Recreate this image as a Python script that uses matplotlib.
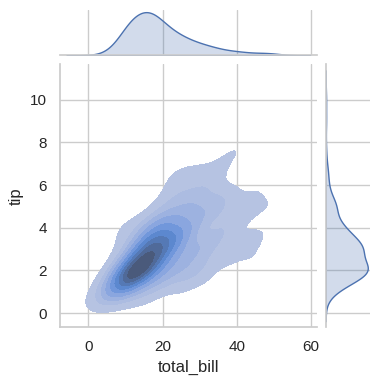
import matplotlib
matplotlib.use("Agg")
import matplotlib.pyplot as plt
import pandas as pd
import seaborn as sns

# tips dataset (total_bill, tip)
total_bill = [
    16.99, 10.34, 21.01, 23.68, 24.59, 25.29, 8.77, 26.88, 15.04, 14.78,
    10.27, 35.26, 15.42, 18.43, 14.83, 21.58, 10.33, 16.29, 16.97, 20.65,
    17.92, 20.29, 15.77, 39.42, 19.82, 17.81, 13.37, 12.69, 21.70, 19.65,
    9.55, 18.35, 15.06, 20.69, 17.78, 24.06, 16.31, 16.93, 18.69, 31.27,
    16.04, 17.46, 13.94, 9.68, 30.40, 18.29, 22.23, 32.40, 28.55, 18.04,
    12.54, 10.29, 34.81, 9.94, 25.56, 19.49, 38.01, 26.41, 11.24, 48.27,
    20.29, 13.81, 11.02, 18.29, 17.59, 20.08, 16.45, 3.07, 20.23, 15.01,
    12.02, 17.07, 26.86, 25.28, 14.73, 10.51, 17.92, 27.20, 22.76, 17.29,
    19.44, 16.66, 10.07, 32.68, 15.98, 34.83, 13.03, 18.28, 24.71, 21.16,
    28.97, 22.49, 5.75, 16.32, 22.75, 40.17, 27.28, 12.03, 21.01, 12.46,
    11.35, 15.38, 44.30, 22.42, 20.92, 15.36, 20.49, 25.21, 18.24, 14.31,
    14.00, 7.25, 38.07, 23.95, 25.71, 17.31, 29.93, 10.65, 12.43, 24.08,
    11.69, 13.42, 14.26, 15.95, 12.48, 29.80, 8.52, 14.52, 11.38, 22.82,
    19.08, 20.27, 11.17, 12.26, 18.26, 8.51, 10.33, 14.15, 16.00, 13.16,
    17.47, 34.30, 41.19, 27.05, 16.43, 8.35, 18.64, 11.87, 9.78, 7.51,
    14.07, 13.13, 17.26, 24.55, 19.77, 29.85, 48.17, 25.00, 13.39, 16.49,
    21.50, 12.66, 16.21, 13.81, 17.51, 24.52, 20.76, 31.71, 10.59, 10.63,
    50.81, 15.81, 7.25, 31.85, 16.82, 32.90, 17.89, 14.48, 9.60, 34.63,
    34.65, 23.33, 45.35, 23.17, 40.55, 20.69, 20.90, 30.46, 18.15, 23.10,
    15.69, 19.81, 28.44, 15.48, 16.58, 7.56, 10.34, 43.11, 13.00, 13.51,
    18.71, 12.74, 13.00, 16.40, 20.53, 16.47, 26.59, 38.73, 24.27, 12.76,
    30.06, 25.89, 48.33, 13.27, 28.17, 12.90, 28.15, 11.59, 7.74, 30.14,
    12.16, 13.42, 8.58, 15.98, 13.42, 16.27, 10.09, 20.45, 13.28, 22.12,
    24.01, 15.69, 11.61, 10.77, 15.53, 10.07, 12.60, 32.83, 35.83, 29.03,
    27.18, 22.67, 17.82, 18.78,
]
tip = [
    1.01, 1.66, 3.50, 3.31, 3.61, 4.71, 2.00, 3.12, 1.96, 3.23,
    1.71, 5.00, 1.57, 3.00, 3.02, 3.92, 1.67, 3.71, 3.50, 3.35,
    4.08, 2.75, 2.23, 7.58, 3.18, 2.34, 2.00, 2.00, 4.30, 3.00,
    1.45, 2.50, 3.00, 2.45, 3.27, 3.60, 2.00, 3.07, 2.31, 5.00,
    2.24, 2.54, 3.06, 1.32, 5.60, 3.00, 5.00, 6.00, 2.05, 3.00,
    2.50, 2.60, 5.20, 1.56, 4.34, 3.51, 3.00, 1.50, 1.76, 6.73,
    3.21, 2.00, 1.98, 3.76, 2.64, 3.15, 2.47, 1.00, 2.01, 2.09,
    1.97, 3.00, 3.14, 5.00, 2.20, 1.25, 3.08, 4.00, 3.00, 2.71,
    3.00, 3.40, 1.83, 5.00, 2.03, 5.17, 2.00, 4.00, 5.85, 3.00,
    3.00, 3.50, 1.00, 4.30, 3.25, 4.73, 4.00, 1.50, 3.00, 1.50,
    2.50, 3.00, 2.50, 3.48, 4.08, 1.64, 4.06, 4.29, 3.76, 4.00,
    3.00, 1.00, 4.00, 2.55, 4.00, 3.50, 5.07, 1.50, 1.80, 2.92,
    2.31, 1.68, 2.50, 2.00, 2.52, 4.20, 1.48, 2.00, 2.00, 2.18,
    1.50, 2.83, 1.50, 2.00, 3.25, 1.25, 2.00, 2.00, 2.00, 2.75,
    3.50, 6.70, 5.00, 5.00, 2.30, 1.50, 1.36, 1.63, 1.73, 2.00,
    2.50, 2.00, 2.74, 2.00, 2.00, 5.14, 5.00, 3.75, 2.61, 2.00,
    3.50, 2.50, 2.00, 2.00, 3.00, 3.48, 2.24, 4.50, 1.61, 2.00,
    10.00, 3.16, 5.15, 3.18, 4.00, 3.11, 2.00, 2.00, 4.00, 3.55,
    3.68, 5.65, 3.50, 6.50, 3.00, 5.00, 3.50, 2.00, 3.50, 4.00,
    1.50, 4.19, 2.56, 2.02, 4.00, 1.44, 2.00, 5.00, 2.00, 2.00,
    4.00, 2.01, 2.00, 2.50, 4.00, 3.23, 3.41, 3.00, 2.03, 2.23,
    2.00, 5.16, 9.00, 2.50, 6.50, 1.10, 3.00, 1.50, 1.44, 3.09,
    2.20, 3.48, 1.92, 3.00, 1.58, 2.50, 2.00, 3.00, 2.72, 2.88,
    2.00, 3.00, 3.39, 1.47, 3.00, 1.25, 1.00, 1.17, 4.67, 5.92,
    2.00, 2.00, 1.75, 3.00,
]

sns.set_theme(style="whitegrid")
plt.rcParams["font.family"] = ["Liberation Sans", "DejaVu Sans"]

tips = pd.DataFrame({"total_bill": total_bill, "tip": tip})

g = sns.jointplot(data=tips, x="total_bill", y="tip", kind="kde", fill=True, height=3.84)
g.figure.set_size_inches(3.79, 3.84)
g.figure.subplots_adjust(left=0.158, right=0.976, bottom=0.148, top=0.974)

g.figure.savefig("out.png", dpi=100)
